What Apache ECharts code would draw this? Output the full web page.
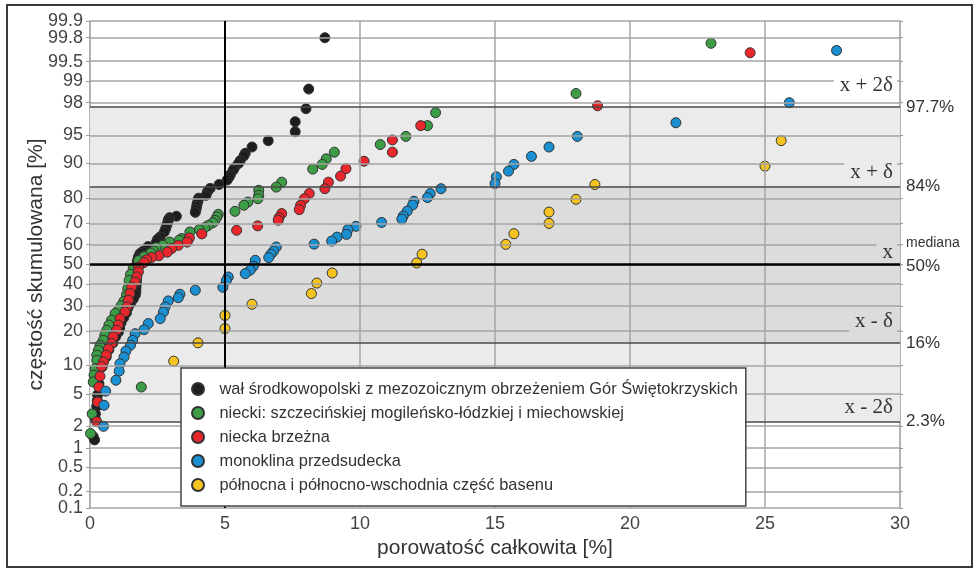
<!DOCTYPE html>
<html>
<head>
<meta charset="utf-8">
<title>porowatość całkowita</title>
<script src="https://cdn.jsdelivr.net/npm/echarts@6/dist/echarts.min.js"></script>
<style>
html, body { margin: 0; padding: 0; background: #fff; }
#chart { width: 976px; height: 570px; }
</style>
</head>
<body>
<div id="chart"></div>
<script>
// [porowatość %, częstość skumulowana %]
var walData = [[8.7,99.8],[8.1,98.7],[8.0,97.6],[7.6,96.5],[7.6,95.4],[6.6,94.2],[6.0,93.2],[5.75,92.1],[5.7,91.6],[5.56,90.6],[5.5,90],[5.35,89],[5.3,88.4],[5.2,87.3],[5.15,86.6],[5.08,85.8],[4.78,84.5],[4.45,83.3],[4.35,82.2],[4.3,81],[4.02,80],[4.0,79],[3.97,78],[3.95,77],[3.93,75.8],[3.9,74.6],[3.2,73],[2.95,72.4],[2.9,71.5],[2.88,70.3],[2.84,69],[2.8,67.5],[2.75,66],[2.6,63.7],[2.5,62.5],[2.45,61],[2.15,59],[2.1,57.5],[1.95,56.5],[1.85,55.5],[1.8,54],[1.78,53],[1.75,51.5],[1.75,50],[1.74,48.5],[1.74,47],[1.73,45.5],[1.73,44],[1.72,42.5],[1.72,41],[1.71,39.5],[1.7,38],[1.7,36.5],[1.68,35],[1.6,33],[1.5,31],[1.4,29],[1.35,27],[1.25,25],[1.15,23],[1.1,21],[1.05,19.5],[0.95,18],[0.85,16],[0.7,14],[0.6,12],[0.45,9.7],[0.33,6.5],[0.28,4.9],[0.27,4.2],[0.25,3.6],[0.2,2.9],[0.2,2.5],[0.12,1.45],[0.17,1.3]];
var nieckiData = [[23.0,99.75],[18.0,98.5],[12.8,97.3],[12.5,96.1],[11.7,94.8],[10.75,93.6],[9.05,92.3],[8.75,91.0],[8.6,89.8],[8.25,88.7],[7.1,85.2],[6.9,83.7],[6.25,82.7],[6.25,81],[6.22,79.8],[5.85,78.6],[5.7,77.4],[5.37,75.0],[4.75,73.8],[4.7,72.7],[4.63,71.2],[4.55,70.2],[4.38,69],[4.25,68],[4.05,67.1],[3.7,66],[3.4,62.9],[3.3,62.1],[2.95,61.2],[2.7,59.6],[2.45,58.6],[2.35,56.8],[2.25,55.8],[2.0,54],[1.8,52],[1.6,48],[1.5,45],[1.45,42],[1.4,38],[1.35,35],[1.25,32],[1.15,30],[1.05,28],[0.93,26.7],[0.8,24],[0.7,22.1],[0.62,20.2],[0.55,18.5],[0.49,16.8],[0.37,15.3],[0.31,13.8],[0.25,12.5],[0.25,11.2],[0.19,9.3],[0.15,8.0],[0.12,6.8],[1.9,6.0],[0.08,2.9],[0.02,1.6]];
var brzeznaData = [[24.45,99.64],[18.8,97.8],[12.25,96.1],[11.2,94.3],[11.2,92.3],[10.15,90.5],[9.48,88.8],[9.28,86.9],[8.83,85.2],[8.7,83.2],[8.12,81.6],[7.94,79.8],[7.8,77.4],[7.75,75.7],[7.1,74.1],[7.0,72.4],[6.97,71.3],[6.21,68.8],[5.43,66.8],[4.14,65.1],[3.68,63.2],[3.6,61.2],[3.27,59.6],[3.02,58],[2.86,56.2],[2.55,54.4],[2.28,53.6],[2.1,52.4],[2.0,51],[1.8,48.7],[1.79,46.2],[1.73,43.7],[1.67,41.2],[1.54,38.7],[1.48,35.6],[1.42,32.5],[1.36,29.5],[1.3,27.4],[1.11,24.6],[1.05,22.1],[0.99,20.2],[0.86,17.9],[0.8,15.8],[0.68,14.2],[0.6,12.5],[0.5,10.8],[0.43,9.8],[0.37,7.8],[0.33,6.0],[0.28,4.05],[0.25,2.3]];
var monoklinaData = [[27.65,99.67],[25.9,98.0],[21.7,96.4],[18.05,94.8],[17.0,93.2],[16.35,91.5],[15.7,89.8],[15.5,88.2],[15.05,86.7],[15.0,84.8],[13.0,83.2],[12.6,81.6],[12.5,80.2],[12.0,78.9],[11.95,77.5],[11.75,75.1],[11.6,73.1],[11.55,71.8],[10.8,70.3],[9.85,68.6],[9.55,67.1],[9.5,64.9],[9.15,63.6],[8.95,61.7],[8.3,60.2],[6.9,58.8],[6.8,56.8],[6.7,55.2],[6.62,53.5],[6.12,52.1],[6.05,49.1],[5.93,47.1],[5.75,45.4],[5.12,43.7],[5.05,42],[4.92,38.6],[3.9,37.2],[3.33,35.3],[3.27,33.7],[2.9,32.2],[2.78,29.5],[2.72,27.3],[2.6,24.6],[2.16,22.7],[2.0,20.4],[1.67,19],[1.58,16.8],[1.5,15.3],[1.33,13.6],[1.26,12.0],[1.11,10.4],[1.08,8.8],[0.96,7.1],[0.58,5.4],[0.52,3.7],[0.5,2.0]];
var polnocData = [[25.6,94.2],[25.0,89.4],[18.7,84.5],[18.0,79.6],[17.0,74.7],[17.0,69.9],[15.7,65.2],[15.4,60.1],[12.3,55.2],[12.1,50.8],[8.97,45.7],[8.4,40.7],[8.2,35.6],[6.0,30.7],[5.0,25.9],[5.0,20.8],[4.0,16.0],[3.1,11.0]];

var seriesNames = [
  'wał środkowopolski z mezozoicznym obrzeżeniem Gór Świętokrzyskich',
  'niecki: szczecińskiej mogileńsko-łódzkiej i miechowskiej',
  'niecka brzeżna',
  'monoklina przedsudecka',
  'północna i północno-wschodnia część basenu'
];
var seriesColors = ['#1e1e1e', '#3d9c46', '#e8262b', '#1a8fd1', '#f6c420'];

var yTicks = [0.1, 0.2, 0.5, 1, 2, 5, 10, 20, 30, 40, 50, 60, 70, 80, 90, 95, 98, 99, 99.5, 99.8, 99.9];
var yTicksTight = [0.2, 99.8]; // podpisy zbyt blisko skrajnych, rysowane na osobnej osi
var xGridLines = [10, 15, 20, 25];
var bandLines = [2.3, 16, 84, 97.7];
var bandLabels = ['2.3%', '16%', '84%', '97.7%'];
var sigmaLabels = ['x - 2δ', 'x - δ', 'x', 'x + δ', 'x + 2δ'];
var sigmaPos = [3.5, 23.3, 56.2, 87.9, 98.85];
var sigmaBg = ['#ebebeb', '#dcdcdc', '#dcdcdc', '#ebebeb', '#ffffff'];

// odwrotna dystrybuanta rozkładu normalnego (Acklam)
function probit(p) {
  var a = [-3.969683028665376e+01, 2.209460984245205e+02, -2.759285104469687e+02, 1.383577518672690e+02, -3.066479806614716e+01, 2.506628277459239e+00];
  var b = [-5.447609879822406e+01, 1.615858368580409e+02, -1.556989798598866e+02, 6.680131188771972e+01, -1.328068155288572e+01];
  var c = [-7.784894002430293e-03, -3.223964580411365e-01, -2.400758277161838e+00, -2.549671348602178e+00, 4.374664141464968e+00, 2.938163982698783e+00];
  var d = [7.784695709041462e-03, 3.224671290700398e-01, 2.445134137142996e+00, 3.754408661907416e+00];
  var pl = 0.02425, q, r;
  if (p < pl) {
    q = Math.sqrt(-2 * Math.log(p));
    return (((((c[0]*q+c[1])*q+c[2])*q+c[3])*q+c[4])*q+c[5]) / ((((d[0]*q+d[1])*q+d[2])*q+d[3])*q+1);
  }
  if (p > 1 - pl) {
    q = Math.sqrt(-2 * Math.log(1 - p));
    return -(((((c[0]*q+c[1])*q+c[2])*q+c[3])*q+c[4])*q+c[5]) / ((((d[0]*q+d[1])*q+d[2])*q+d[3])*q+1);
  }
  q = p - 0.5; r = q * q;
  return (((((a[0]*r+a[1])*r+a[2])*r+a[3])*r+a[4])*r+a[5])*q / (((((b[0]*r+b[1])*r+b[2])*r+b[3])*r+b[4])*r+1);
}
function z(pct) { return probit(pct / 100); }

function toProb(data) {
  return data.map(function (d) { return [d[0], z(d[1])]; });
}

function tickLabel(v) {
  for (var k = 0; k < yTicks.length; k++) {
    if (Math.abs(z(yTicks[k]) - v) < 1e-6) return String(yTicks[k]);
  }
  return '';
}

var allData = [walData, nieckiData, brzeznaData, monoklinaData, polnocData];
var font = 'Liberation Sans';

var gridLineData = yTicks.map(function (t) { return { yAxis: z(t) }; })
  .concat(xGridLines.map(function (v) { return { xAxis: v }; }));

var darkLineData = bandLines.map(function (t) {
  return { yAxis: z(t), lineStyle: { color: '#4a4a4a', width: 1.5 } };
});
darkLineData.push({ yAxis: z(50), lineStyle: { color: '#000', width: 2.5 } });
darkLineData.push({ xAxis: 5, lineStyle: { color: '#000', width: 2 } });

var series = [{
  type: 'line', data: [], silent: true, z: 1,
  markArea: {
    silent: true,
    data: [
      [{ yAxis: z(2.3), itemStyle: { color: '#ebebeb' } }, { yAxis: z(97.7) }],
      [{ yAxis: z(16), itemStyle: { color: '#dcdcdc' } }, { yAxis: z(84) }]
    ]
  },
  markLine: {
    silent: true, symbol: 'none', label: { show: false },
    lineStyle: { color: '#a5a5a5', width: 1.5, type: 'solid' },
    data: gridLineData
  }
}, {
  type: 'line', data: [], silent: true, z: 2,
  markLine: {
    silent: true, symbol: 'none', label: { show: false },
    lineStyle: { type: 'solid' },
    data: darkLineData
  }
}];

for (var i = 0; i < allData.length; i++) {
  series.push({
    name: seriesNames[i],
    type: 'scatter',
    z: 3,
    symbol: 'circle',
    symbolSize: 10,
    itemStyle: { color: seriesColors[i], borderColor: '#333', borderWidth: 1, opacity: 1 },
    data: toProb(allData[i])
  });
}

var yTickValues = yTicks.map(z);
var yMainLabelValues = yTicks.filter(function (t) { return yTicksTight.indexOf(t) < 0; }).map(z);
var yTightLabelValues = yTicksTight.map(z);
var yLabelStyle = { fontFamily: font, fontSize: 18, color: '#444', margin: 7 };

var option = {
  animation: false,
  backgroundColor: '#fff',
  grid: { left: 90, right: 76, top: 21, bottom: 62 },
  legend: {
    data: seriesNames,
    z: 50,
    orient: 'vertical',
    left: 181, top: 368,
    padding: [13, 8, 13, 10],
    itemWidth: 25, itemHeight: 12, itemGap: 8,
    icon: 'circle',
    backgroundColor: '#fff',
    borderColor: '#444', borderWidth: 1.5, borderRadius: 0,
    textStyle: { fontFamily: font, fontSize: 16.4, color: '#333', lineHeight: 14, padding: [0, 0, 0, 4] }
  },
  xAxis: {
    type: 'value', min: 0, max: 30, interval: 5,
    name: 'porowatość całkowita [%]', nameLocation: 'middle', nameGap: 30,
    nameTextStyle: { fontFamily: font, fontSize: 21, color: '#333' },
    axisLine: { show: true, lineStyle: { color: '#999', width: 1.5 } },
    axisTick: { show: true, length: 4, lineStyle: { color: '#999' } },
    minorTick: { show: true, splitNumber: 2, length: 3, lineStyle: { color: '#999' } },
    axisLabel: { fontFamily: font, fontSize: 18, color: '#444', margin: 7 },
    splitLine: { show: false }
  },
  yAxis: [{
    type: 'value', min: z(0.1), max: z(99.9),
    name: 'częstość skumulowana [%]', nameLocation: 'middle', nameGap: 43, nameRotate: 90,
    nameMoveOverlap: false,
    nameTextStyle: { fontFamily: font, fontSize: 21, color: '#333' },
    axisLine: { show: true, lineStyle: { color: '#999', width: 1.5 } },
    axisTick: { show: true, length: 4, customValues: yTickValues, lineStyle: { color: '#999' } },
    axisLabel: Object.assign({
      showMinLabel: true, showMaxLabel: true,
      customValues: yMainLabelValues,
      formatter: tickLabel
    }, yLabelStyle),
    splitLine: { show: false }
  }, {
    type: 'value', min: z(0.1), max: z(99.9), position: 'right',
    axisLine: { show: true, lineStyle: { color: '#999', width: 1.5 } },
    axisTick: { show: true, length: 3, customValues: yTickValues, lineStyle: { color: '#999' } },
    axisLabel: { show: false },
    splitLine: { show: false }
  }, {
    type: 'value', min: z(0.1), max: z(99.9), position: 'left', offset: 0,
    axisLine: { show: false },
    axisTick: { show: false },
    axisLabel: Object.assign({
      showMinLabel: true, showMaxLabel: true,
      customValues: yTightLabelValues,
      formatter: tickLabel
    }, yLabelStyle),
    splitLine: { show: false }
  }],
  series: series
};

var chart = echarts.init(document.getElementById('chart'));
chart.setOption(option);

// opisy po prawej stronie i przy liniach odchylenia
var graphic = [{
  type: 'rect', silent: true, z: 100,
  shape: { x: 7, y: 5, width: 965, height: 562 },
  style: { fill: 'none', stroke: '#3a3a3a', lineWidth: 2 }
}];
for (var j = 0; j < bandLines.length; j++) {
  var pb = chart.convertToPixel({ xAxisIndex: 0, yAxisIndex: 0 }, [30, z(bandLines[j])]);
  graphic.push({
    type: 'text', silent: true, z: 100, x: pb[0] + 6, y: pb[1],
    style: { text: bandLabels[j], fontFamily: font, fontSize: 17, fill: '#333', verticalAlign: 'middle' }
  });
}
var p50 = chart.convertToPixel({ xAxisIndex: 0, yAxisIndex: 0 }, [30, z(50)]);
graphic.push({
  type: 'text', silent: true, z: 100, x: p50[0] + 6, y: p50[1] + 2,
  style: { text: '50%', fontFamily: font, fontSize: 17, fill: '#333', verticalAlign: 'middle' }
});
var pMed = chart.convertToPixel({ xAxisIndex: 0, yAxisIndex: 0 }, [30, z(60.5)]);
graphic.push({
  type: 'text', silent: true, z: 100, x: pMed[0] + 6, y: pMed[1],
  style: { text: 'mediana', fontFamily: font, fontSize: 14, fill: '#333', verticalAlign: 'middle' }
});
for (var s = 0; s < sigmaLabels.length; s++) {
  var ps = chart.convertToPixel({ xAxisIndex: 0, yAxisIndex: 0 }, [30, z(sigmaPos[s])]);
  graphic.push({
    type: 'text', silent: true, z: 100, x: ps[0] - 3, y: ps[1],
    style: {
      text: sigmaLabels[s], fontFamily: 'Liberation Serif', fontSize: 21, fill: '#333',
      align: 'right', verticalAlign: 'middle',
      backgroundColor: sigmaBg[s], padding: [0, 4, 0, 6]
    }
  });
}
chart.setOption({ graphic: graphic });
</script>
</body>
</html>
